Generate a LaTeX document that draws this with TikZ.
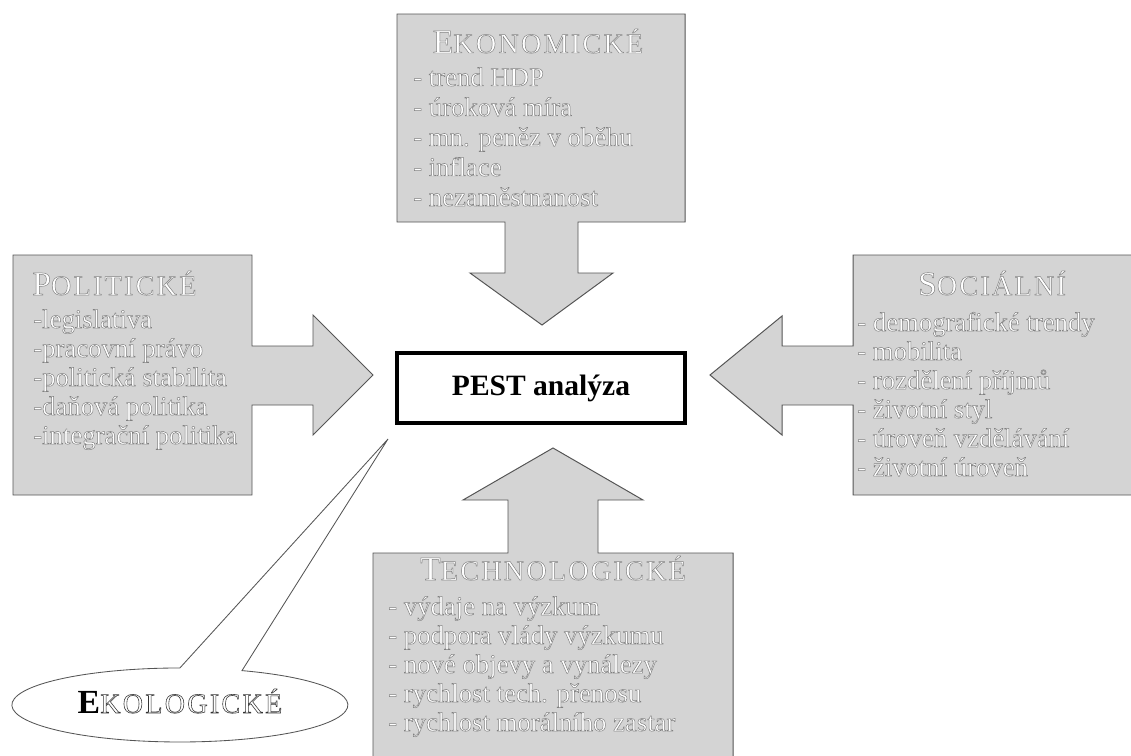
\documentclass[tikz,border=0pt]{standalone}
\usepackage{fontspec}
\setmainfont{Liberation Serif}
\newfontfamily\nadpisfont{Liberation Serif}[LetterSpace=8]
\usepackage{tikz}

% white letters with a grey outline, as in the old slide
\newcommand{\obrys}[1]{\special{pdf:literal direct 0.5 G 0.35 w 2 Tr}#1\special{pdf:literal direct 0 Tr}}
\newcommand{\obrysc}[1]{\special{pdf:literal direct 0.2 G 0.4 w 2 Tr}#1\special{pdf:literal direct 0 Tr}}
\newcommand{\velke}[2]{{\fontsize{24}{26}\selectfont #1}{\fontsize{20}{22}\selectfont #2}}

\definecolor{sedapl}{RGB}{212,212,212}
\definecolor{sedaob}{RGB}{85,85,85}

\tikzset{
  blok/.style={fill=sedapl, draw=sedaob, line width=0.7pt, line join=miter},
  nadpis/.style={anchor=base, inner sep=0pt, text=white, font=\nadpisfont},
  polozka/.style={anchor=base west, inner sep=0pt, text=white, font=\fontsize{19}{21}\selectfont},
  pest/.style={draw=black, line width=2.2pt, fill=white, minimum width=7.2cm, minimum height=1.75cm,
    font=\fontsize{21}{24}\selectfont\bfseries, inner sep=0pt}
}

\begin{document}
\begin{tikzpicture}[x=0.025cm, y=-0.025cm]
      \useasboundingbox (0,0) rectangle (1131,756);
      \clip (0,0) rectangle (1131,756);

      % the four boxes with their arrows
      \draw[blok] (397,14) -- (685,14) -- (685,222) -- (578,222) -- (578,273) -- (613,273)
        -- (542,325) -- (470,273) -- (505,273) -- (505,222) -- (397,222) -- cycle;
      \draw[blok] (13,255) -- (252,255) -- (252,346) -- (313,346) -- (313,315) -- (373,375)
        -- (313,435) -- (313,405) -- (252,405) -- (252,495) -- (13,495) -- cycle;
      \draw[blok] (853,255) -- (1140,255) -- (1140,495) -- (853,495) -- (853,405) -- (782,405)
        -- (782,435) -- (710,375) -- (782,316) -- (782,346) -- (853,346) -- cycle;
      \draw[blok] (373,553) -- (508,553) -- (508,500) -- (463,500) -- (553,448) -- (643,500)
        -- (598,500) -- (598,553) -- (733,553) -- (733,770) -- (373,770) -- cycle;

      \node[pest] (pest) at (541,388) {PEST analýza};

      % ekologicke callout
      \coordinate (ekotip) at (388,439);
      \draw[fill=white, draw=sedaob, line width=0.6pt] (ekotip) -- (242,670.6)
        arc[start angle=-68.3, end angle=270, x radius=168, y radius=37] -- cycle;
      \node[nadpis, text=white] (ekol) at (180,713)
        {\textcolor{black}{\fontsize{24}{26}\selectfont\bfseries E}\obrysc{\fontsize{20}{22}\selectfont KOLOGICKÉ}};

      % headings
      \node[nadpis] (ekon) at (538,53) {\obrys{\velke{E}{KONOMICKÉ}}};
      \node[nadpis, anchor=base west] (poli) at (32,295) {\obrys{\velke{P}{OLITICKÉ}}};
      \node[nadpis] (soci) at (992,295) {\obrys{\velke{S}{OCIÁLNÍ}}};
      \node[nadpis] (tech) at (553,580) {\obrys{\velke{T}{ECHNOLOGICKÉ}}};

      % items
      \foreach \t [count=\i from 0] in {- trend HDP, - úroková míra, - mn. peněz v oběhu, - inflace, - nezaměstnanost}
        \node[polozka] (ekon-\i) at (413,86+30*\i) {\obrys{\t}};
      \foreach \t [count=\i from 0] in {-legislativa, -pracovní právo, -politická stabilita, -daňová politika, -integrační politika}
        \node[polozka] (poli-\i) at (33,328+29*\i) {\obrys{\t}};
      \foreach \t [count=\i from 0] in {- demografické trendy, - mobilita, - rozdělení příjmů, - životní styl, - úroveň vzdělávání, - životní úroveň}
        \node[polozka] (soci-\i) at (857,331+29*\i) {\obrys{\t}};
      \foreach \t [count=\i from 0] in {- výdaje na výzkum, - podpora vlády výzkumu, - nové objevy a vynálezy, - rychlost tech. přenosu, - rychlost morálního zastar}
        \node[polozka] (tech-\i) at (388,615+29*\i) {\obrys{\t}};
    \end{tikzpicture}
\end{document}
